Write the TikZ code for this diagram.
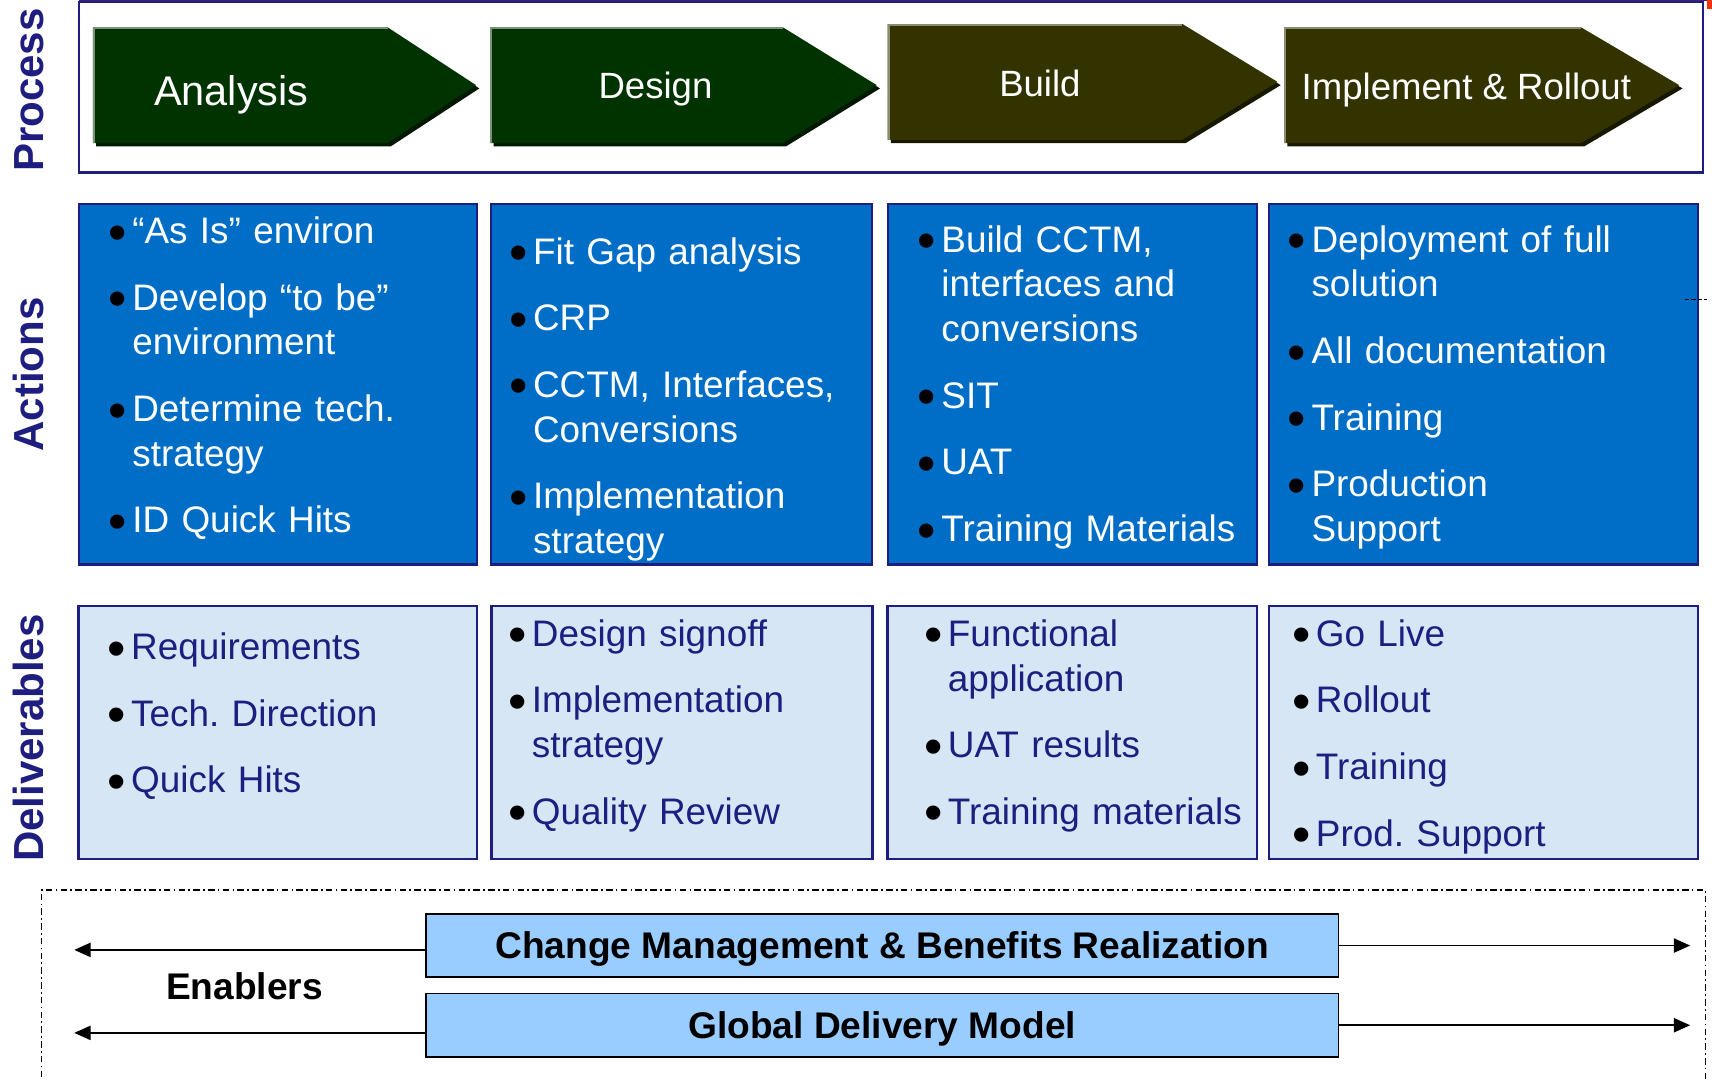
\documentclass[tikz,border=0pt]{standalone}
\usepackage{fontspec}
\setmainfont{Liberation Sans}
\usetikzlibrary{arrows.meta}
\frenchspacing
\definecolor{navy}{RGB}{30,30,128}
\definecolor{actblue}{RGB}{0,110,198}
\definecolor{delblue}{RGB}{214,230,244}
\definecolor{enbblue}{RGB}{153,204,255}
\definecolor{chgreen}{RGB}{0,51,0}
\definecolor{chgreenhl}{RGB}{122,146,122}
\definecolor{chgreensh}{RGB}{0,24,0}
\definecolor{cholive}{RGB}{51,51,0}
\definecolor{cholivehl}{RGB}{140,140,112}
\definecolor{cholivesh}{RGB}{24,24,0}
\definecolor{topline}{RGB}{70,30,110}
\definecolor{redmark}{RGB}{240,50,10}
\newcommand{\bmark}{\leavevmode\llap{\textcolor{black}{\raisebox{-6pt}{\fontsize{48pt}{48pt}\selectfont\textbullet}}\hspace{5pt}}}
\newcommand{\chevron}[8]{%
  \fill[#8] ({#1+3},{#2+3}) -- ({#4+3},{#2+3}) -- ({#5+3},{(#2+#3)/2+3}) -- ({#4+3},{#3+3}) -- ({#1+3},{#3+3}) -- cycle;
  \fill[#6] (#1,#2) -- (#4,#2) -- (#5,{(#2+#3)/2}) -- (#4,#3) -- (#1,#3) -- cycle;
  \draw[#7, line width=2pt] ({#1+1},#3) -- ({#1+1},{#2+1}) -- (#4,{#2+1});
}
\begin{document}
\begin{tikzpicture}[x=1pt,y=-1pt,
  sidelbl/.style={rotate=90, anchor=base, text=navy, inner sep=0, font=\fontsize{38.5pt}{40pt}\selectfont\bfseries},
  chevtxt/.style={anchor=base west, text=white, inner sep=0, font=\fontsize{33.5pt}{40pt}\selectfont},
  actbox/.style={draw=navy, fill=actblue, line width=2pt, inner sep=0, outer sep=0},
  delbox/.style={draw=navy, fill=delblue, line width=2.2pt, inner sep=0, outer sep=0},
  blist/.style={anchor=base west, inner sep=0, text width=#1, align=left, font=\fontsize{33.8pt}{41pt}\selectfont},
  enbox/.style={draw=black, fill=enbblue, line width=1.6pt, inner sep=0, outer sep=0,
    minimum width=836pt, minimum height=58pt, text height=24.3pt, text depth=0pt,
    font=\fontsize{34pt}{40pt}\selectfont\bfseries},
  arr/.style={line width=1.6pt, -{Triangle[length=15pt,width=13pt]}},
  dashdotframe/.style={line width=1.5pt, dash pattern=on 6pt off 3pt on 1.5pt off 3pt}
]
\clip (0,0) rectangle (1568,989);
\fill[white] (0,0) rectangle (1568,989);

% top edge artefacts
\fill[topline] (72,0) rectangle (1563,1.2);
\fill[redmark] (1563,0) rectangle (1568,8);

% side labels
\node[sidelbl] (lproc) at (39.5,82.5) {Process};
\node[sidelbl] (lact) at (39.5,343) {Actions};
\node[sidelbl] (ldel) at (39.5,676) {Deliverables};

% process frame
\node[draw=navy, line width=2pt, inner sep=0, outer sep=0, minimum width=1488pt, minimum height=156pt] (procframe) at (816,80) {};

% chevrons
\chevron{85}{25}{131}{355}{436}{chgreen}{chgreenhl}{chgreensh}
\chevron{449}{25}{131}{717}{803}{chgreen}{chgreenhl}{chgreensh}
\chevron{813}{22}{128}{1083}{1170}{cholive}{cholivehl}{cholivesh}
\chevron{1176}{25}{131}{1448}{1538}{cholive}{cholivehl}{cholivesh}
\node[chevtxt, font=\fontsize{38pt}{40pt}\selectfont] (tA) at (141,96.5) {Analysis};
\node[chevtxt] (tD) at (548,90) {Design};
\node[chevtxt] (tB) at (915,88) {Build};
\node[chevtxt] (tI) at (1192,91) {Implement \& Rollout};

% action boxes
\node[actbox, minimum width=365pt, minimum height=330pt] (a1) at (254.5,352) {};
\node[actbox, minimum width=349pt, minimum height=330pt] (a2) at (624.5,352) {};
\node[actbox, minimum width=338pt, minimum height=330pt] (a3) at (982,352) {};
\node[actbox, minimum width=393pt, minimum height=330pt] (a4) at (1358.5,352) {};

\node[blist=320pt, text=white] (a1t) at (121,223) {\bmark “As Is” environ\\[20pt]
\bmark Develop “to be”\\environment\\[20pt]
\bmark Determine tech.\\strategy\\[20pt]
\bmark ID Quick Hits};
\node[blist=320pt, text=white] (a2t) at (488,242) {\bmark Fit Gap analysis\\[20pt]
\bmark CRP\\[20pt]
\bmark CCTM, Interfaces,\\Conversions\\[20pt]
\bmark Implementation\\strategy};
\node[blist=320pt, text=white] (a3t) at (862,231) {\bmark Build CCTM,\\interfaces and\\conversions\\[20pt]
\bmark SIT\\[20pt]
\bmark UAT\\[20pt]
\bmark Training Materials};
\node[blist=340pt, text=white] (a4t) at (1201,231) {\bmark Deployment of full\\solution\\[20pt]
\bmark All documentation\\[20pt]
\bmark Training\\[20pt]
\bmark Production\\Support};

\draw[line width=1pt, dash pattern=on 4pt off 2pt] (1543,274) -- (1563,274);

% deliverable boxes
\node[delbox, minimum width=365pt, minimum height=232pt] (d1) at (254.5,671) {};
\node[delbox, minimum width=349pt, minimum height=232pt] (d2) at (624.5,671) {};
\node[delbox, minimum width=338pt, minimum height=232pt] (d3) at (982,671) {};
\node[delbox, minimum width=393pt, minimum height=232pt] (d4) at (1358.5,671) {};

\node[blist=320pt, text=navy] (d1t) at (120,604) {\bmark Requirements\\[20pt]
\bmark Tech. Direction\\[20pt]
\bmark Quick Hits};
\node[blist=320pt, text=navy] (d2t) at (487,592) {\bmark Design signoff\\[20pt]
\bmark Implementation\\strategy\\[20pt]
\bmark Quality Review};
\node[blist=320pt, text=navy] (d3t) at (868,592) {\bmark Functional\\application\\[20pt]
\bmark UAT results\\[20pt]
\bmark Training materials};
\node[blist=340pt, text=navy] (d4t) at (1205,592) {\bmark Go Live\\[20pt]
\bmark Rollout\\[20pt]
\bmark Training\\[20pt]
\bmark Prod. Support};

% enablers
\draw[dashdotframe] (38,1000) -- (38,815) -- (1562,815) -- (1562,1000);
\node[enbox] (cm) at (808,866) {Change Management \& Benefits Realization};
\node[enbox] (gdm) at (808,939) {Global Delivery Model};
\node[anchor=base, inner sep=0, font=\fontsize{34pt}{40pt}\selectfont\bfseries] (enab) at (224,915) {Enablers};

\coordinate (cmL) at (68,870);
\coordinate (cmR) at (1548,866);
\coordinate (gdmL) at (68,946);
\coordinate (gdmR) at (1548,939);
\draw[arr] (cm.west |- cmL) -- (cmL);
\draw[arr] (cm.east) -- (cmR);
\draw[arr] (gdm.west |- gdmL) -- (gdmL);
\draw[arr] (gdm.east) -- (gdmR);
\end{tikzpicture}
\end{document}
